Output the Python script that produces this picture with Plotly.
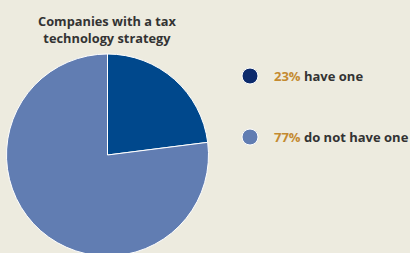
import plotly.graph_objects as go

categories = ["have one", "do not have one"]
values = [23, 77]
slice_colors = ["#00488c", "#617db2"]
marker_colors = ["#0c2a6c", "#617db2"]
title_lines = ["Companies with a tax", "technology strategy"]

W, H = 410, 256  # slightly taller than the window so the pie bottom is cropped, as in the reference
fig = go.Figure()
fig.add_trace(go.Pie(
    values=values, labels=categories, sort=False, direction="clockwise", rotation=0,
    marker=dict(colors=slice_colors, line=dict(color="white", width=1)),
    textinfo="none", hoverinfo="label+percent", showlegend=False,
    domain=dict(x=[6/W, 209/W], y=[0, 202/H]),
))

annotations = [dict(
    text="<b>" + title_lines[0] + "</b><br><b>" + title_lines[1] + "</b>",
    x=107/W, y=1-29/H, xref="paper", yref="paper",
    xanchor="center", yanchor="middle", showarrow=False,
    font=dict(family="Open Sans", size=12.8, color="#333333"), align="center",
)]

shapes = []
ys = [76, 137]
for cat, v, c, yy in zip(categories, values, marker_colors, ys):
    shapes.append(dict(type="circle", xref="paper", yref="paper",
                       x0=(250-8)/W, x1=(250+8)/W, y0=1-(yy+8)/H, y1=1-(yy-8)/H,
                       fillcolor=c, line=dict(color="white", width=1)))
    annotations.append(dict(
        text=f"<b><span style='color:#c48a30'>{v}%</span> {cat}</b>",
        x=272/W, y=1-yy/H, xref="paper", yref="paper", xanchor="left", yanchor="middle",
        showarrow=False, font=dict(family="Open Sans", size=13, color="#333333"),
    ))

fig.update_layout(
    width=W, height=H, margin=dict(l=0, r=0, t=0, b=0),
    paper_bgcolor="#edebdf", plot_bgcolor="#edebdf",
    annotations=annotations, shapes=shapes,
)
fig.write_html("out.html", config={"displayModeBar": False},
               post_script="document.body.style.margin='0';document.body.style.padding='0';document.body.style.overflow='hidden';")
